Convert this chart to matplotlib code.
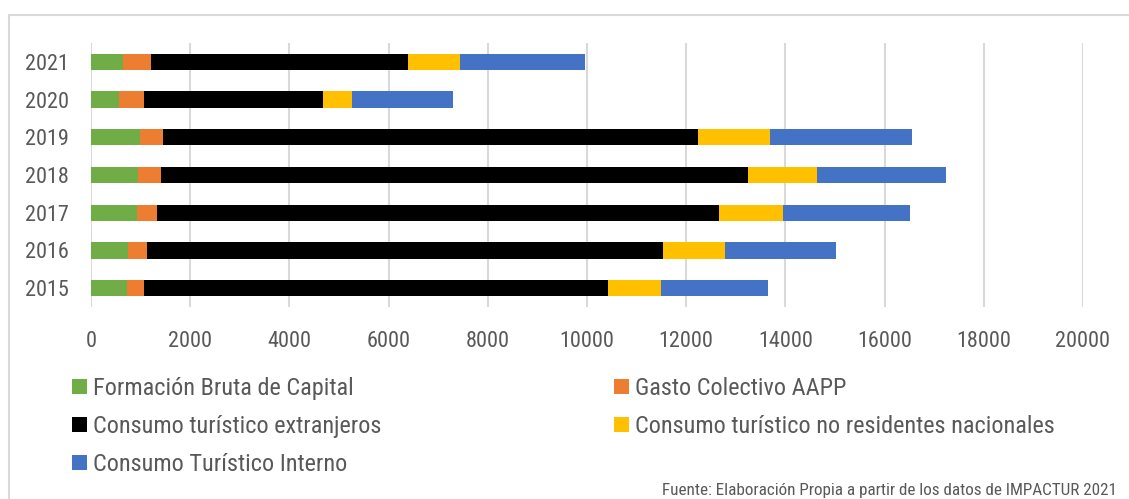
import numpy as np
import matplotlib
matplotlib.use("Agg")
import matplotlib.pyplot as plt
from matplotlib.patches import Patch, Rectangle

## Data
years = ["2015", "2016", "2017", "2018", "2019", "2020", "2021"]
formacion = [716, 752, 918, 954, 982, 565, 651]
gasto_aapp = [361, 375, 403, 454, 468, 512, 561]
extranjeros = [9343, 10408, 11338, 11842, 10791, 3600, 5180]
no_residentes = [1079, 1241, 1291, 1383, 1449, 585, 1053]
interno = [2148, 2253, 2563, 2608, 2860, 2046, 2521]

series = [
    ("Formación Bruta de Capital", formacion, "#70AD47"),
    ("Gasto Colectivo AAPP", gasto_aapp, "#ED7D31"),
    ("Consumo turístico extranjeros", extranjeros, "#000000"),
    ("Consumo turístico no residentes nacionales", no_residentes, "#FFC000"),
    ("Consumo Turístico Interno", interno, "#4472C4"),
]

# narrow font, like the original
plt.rcParams["font.family"] = ["Roboto Condensed", "Liberation Sans", "DejaVu Sans"]
txt = "#595959"

fig = plt.figure(figsize=(11.29, 4.99), dpi=100)
ax = fig.add_axes([91 / 1129, 1 - 307 / 499, (1083 - 91) / 1129, (307 - 43) / 499])

y = np.arange(len(years))
left = np.zeros(len(years))
handles = []
for label, vals, col in series:
    vals = np.array(vals, dtype=float)
    ax.barh(y, vals, left=left, height=0.435, color=col, label=label, zorder=3)
    left += vals
    handles.append(Patch(facecolor=col, label=label))

ax.set_xlim(0, 20000)
ax.set_ylim(-0.5, len(years) - 0.5)
ax.set_xticks(np.arange(0, 20001, 2000))
ax.set_yticks(y)
ax.set_yticklabels(years)
ax.grid(axis="x", color="#D9D9D9", linewidth=1.5, zorder=0)
for s in ax.spines.values():
    s.set_visible(False)
ax.tick_params(length=0, labelsize=16, colors=txt, pad=16)
ax.tick_params(axis="x", pad=17)

# legend in two columns
leg_kw = dict(frameon=False, fontsize=17.5, handlelength=0.6, handleheight=0.6,
              handletextpad=0.28, labelspacing=0.62, borderaxespad=0, borderpad=0,
              labelcolor=txt)
l1 = fig.legend(handles=[handles[0], handles[2], handles[4]], loc="upper left",
                bbox_to_anchor=(72 / 1129, 1 - 377 / 499), **leg_kw)
l2 = fig.legend(handles=[handles[1], handles[3]], loc="upper left",
                bbox_to_anchor=(614 / 1129, 1 - 377 / 499), **leg_kw)

fig.text(1117 / 1129, 1 - 490 / 499,
         "Fuente: Elaboración Propia a partir de los datos de IMPACTUR 2021",
         ha="right", va="center", fontsize=12.3, color=txt)

# chart frame
fig.patches.append(Rectangle((9 / 1129, -0.1), 1.2, 1.1 - 15 / 499,
                             transform=fig.transFigure, fill=False,
                             edgecolor="#D9D9D9", linewidth=1.5))

fig.savefig("out.png", dpi=100)
